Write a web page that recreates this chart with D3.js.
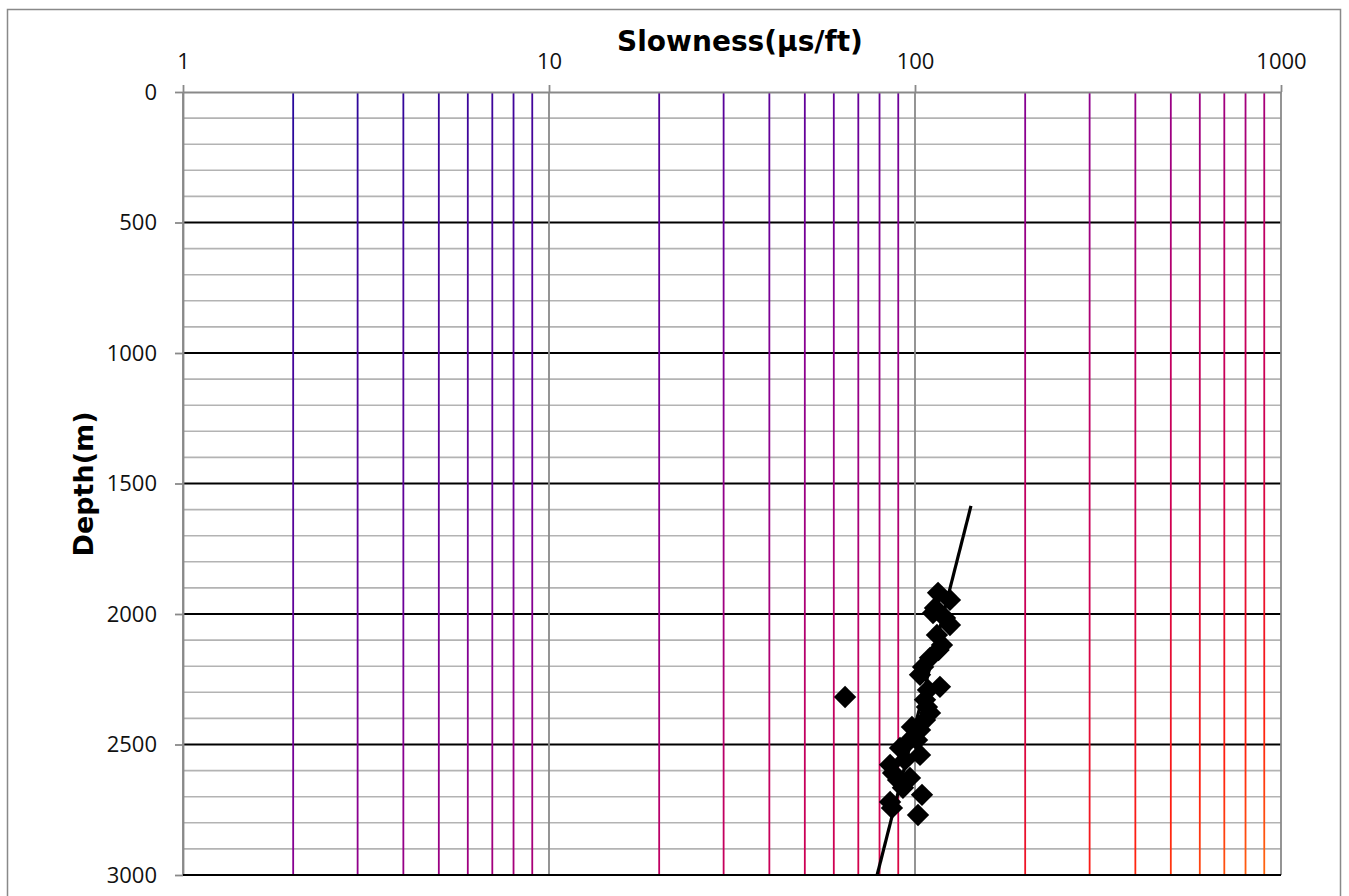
<!DOCTYPE html>
<html lang="en">
<head>
<meta charset="UTF-8">
<title>Slowness vs Depth</title>
<script src="https://d3js.org/d3.v7.min.js"></script>
<style>
  body { margin: 0; background: #fff; }
  .tick text { font-family: "Open Sans", "Liberation Sans", sans-serif; font-size: 22px; fill: #111; }
</style>
</head>
<body>
<script>
    // slowness (us/ft) and depth (m)
    var slowness = [115.6, 124.6, 113.4, 112, 120.8, 124.6, 114.8, 118.5, 116, 109.9,
                    105.2, 103.2, 117, 108.5, 106.5, 107.8, 109.9, 106.5, 98.1, 103.2,
                    101.3, 95.7, 91, 103.2, 93.9, 85.5, 87.1, 96.9, 89.9, 92.7,
                    104.5, 85.5, 86.5, 101.9, 64.4];
    var depth    = [1919, 1946, 1977, 1996, 2015, 2042, 2080, 2119, 2138, 2168,
                    2203, 2233, 2279, 2291, 2329, 2356, 2379, 2406, 2433, 2444,
                    2483, 2490, 2513, 2540, 2559, 2578, 2609, 2628, 2636, 2666,
                    2693, 2720, 2743, 2770, 2318];

    // trend line end points
    var trendSlowness = [78.8, 142.2];
    var trendDepth    = [3000, 1586];

    var xTicks = [1, 10, 100, 1000];
    var yTicks = [0, 500, 1000, 1500, 2000, 2500, 3000];

    var width = 1349,
        height = 896,
        plotLeft = 183,
        plotRight = 1281,
        plotTop = 92,
        plotBottom = 875;

    var svg = d3.select("body").append("svg")
        .attr("width", width)
        .attr("height", height);

    // outer chart border
    svg.append("rect")
        .attr("x", 7.5).attr("y", 9.5)
        .attr("width", 1333).attr("height", 900)
        .attr("fill", "none")
        .attr("stroke", "#898989")
        .attr("stroke-width", 1.5);

    var x = d3.scaleLog().domain([1, 1000]).range([plotLeft, plotRight]);
    var y = d3.scaleLinear().domain([0, 3000]).range([plotTop, plotBottom]);

    // colour wash of the minor vertical grid lines
    var grad = svg.append("defs").append("linearGradient")
        .attr("id", "vgrad")
        .attr("gradientUnits", "userSpaceOnUse")
        .attr("x1", plotLeft).attr("y1", plotTop)
        .attr("x2", 1134).attr("y2", 1024);
    [[0, "#1a0a9c"], [0.38, "#6a0099"], [0.47, "#8a0090"], [0.58, "#a4007c"],
     [0.66, "#c00062"], [0.76, "#d00050"], [0.91, "#ff2010"], [1, "#ff7010"]]
        .forEach(function (s) {
            grad.append("stop").attr("offset", s[0]).attr("stop-color", s[1]);
        });

    // horizontal grid
    var yMinor = y.ticks(30);
    svg.append("g").selectAll("line")
        .data(yMinor.filter(function (d) { return d > 0; }))
        .enter().append("line")
        .attr("x1", plotLeft).attr("x2", plotRight)
        .attr("y1", function (d) { return y(d); })
        .attr("y2", function (d) { return y(d); })
        .attr("stroke", function (d) { return d % 500 === 0 ? "#000" : "#b3b3b3"; })
        .attr("stroke-width", function (d) { return d % 500 === 0 ? 1.8 : 1.6; });

    // vertical minor grid
    var xMinor = x.ticks().filter(function (d) { return xTicks.indexOf(d) < 0; });
    svg.append("g").selectAll("line")
        .data(xMinor)
        .enter().append("line")
        .attr("x1", function (d) { return x(d); })
        .attr("x2", function (d) { return x(d); })
        .attr("y1", plotTop).attr("y2", plotBottom)
        .attr("stroke", "url(#vgrad)")
        .attr("stroke-width", 1.8);

    // decade lines
    svg.append("g").selectAll("line")
        .data(xTicks)
        .enter().append("line")
        .attr("x1", function (d) { return x(d); })
        .attr("x2", function (d) { return x(d); })
        .attr("y1", plotTop).attr("y2", plotBottom)
        .attr("stroke", "#898989")
        .attr("stroke-width", 1.8);

    // axes
    var xAxis = svg.append("g")
        .attr("transform", "translate(0," + plotTop + ")")
        .call(d3.axisTop(x).tickValues(xTicks).tickFormat(d3.format("d")).tickSize(7).tickSizeOuter(0).tickPadding(16));
    var yAxis = svg.append("g")
        .attr("transform", "translate(" + plotLeft + ",0)")
        .call(d3.axisLeft(y).tickValues(yTicks).tickFormat(d3.format("d")).tickSize(8).tickSizeOuter(0).tickPadding(18));
    [xAxis, yAxis].forEach(function (a) {
        a.select(".domain").attr("stroke", "#898989").attr("stroke-width", 1.8);
        a.selectAll(".tick line").attr("stroke", "#898989").attr("stroke-width", 1.8);
    });
    // bottom gridline stays black over the axis
    svg.append("line")
        .attr("x1", plotLeft).attr("x2", plotRight)
        .attr("y1", y(3000)).attr("y2", y(3000))
        .attr("stroke", "#000").attr("stroke-width", 2);

    // titles
    svg.append("text")
        .attr("x", 740).attr("y", 51)
        .attr("text-anchor", "middle")
        .attr("font-family", "'Comic Sans MS', 'DejaVu Sans', sans-serif")
        .attr("font-weight", "bold")
        .attr("font-size", "28px")
        .text("Slowness(\u03bcs/ft)");

    svg.append("text")
        .attr("transform", "translate(93,484) rotate(-90)")
        .attr("text-anchor", "middle")
        .attr("font-family", "'Comic Sans MS', 'DejaVu Sans', sans-serif")
        .attr("font-weight", "bold")
        .attr("font-size", "27px")
        .text("Depth(m)");

    // trend line
    svg.append("line")
        .attr("x1", x(trendSlowness[0])).attr("y1", y(trendDepth[0]))
        .attr("x2", x(trendSlowness[1])).attr("y2", y(trendDepth[1]))
        .attr("stroke", "#000")
        .attr("stroke-width", 3.2);

    // points
    var diamond = d3.symbol().type(d3.symbolSquare).size(250);
    svg.append("g").selectAll("path")
        .data(slowness)
        .enter().append("path")
        .attr("d", diamond)
        .attr("transform", function (d, i) {
            return "translate(" + x(d) + "," + y(depth[i]) + ") rotate(45)";
        })
        .attr("fill", "#000");
</script>
</body>
</html>
